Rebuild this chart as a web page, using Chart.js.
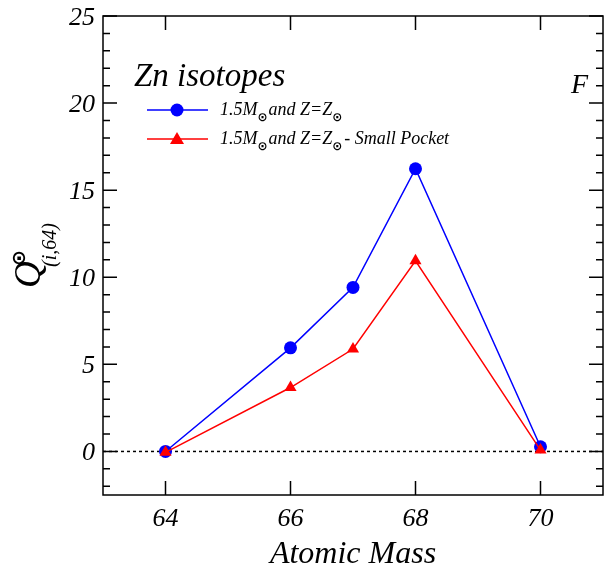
<!DOCTYPE html>
<html>
<head>
<meta charset="utf-8">
<script src="https://cdn.jsdelivr.net/npm/chart.js@4"></script>
<style>
  html, body { margin: 0; padding: 0; background: #fff; }
  #wrap { width: 606px; height: 571px; }
</style>
</head>
<body>
<div id="wrap"><canvas id="chart" width="606" height="571"></canvas></div>
<script>
// Zn isotopes, panel F
const masses = [64, 66, 67, 68, 70];
const baseRun = [0.0, 5.95, 9.42, 16.23, 0.27];
const smallPocket = [-0.05, 3.67, 5.88, 10.95, 0.08];
const xTicks = [64, 66, 68, 70];
const yTicks = [0, 5, 10, 15, 20, 25];

const serif = '"Liberation Serif", "DejaVu Serif", serif';

function points(values) {
  return masses.map((m, i) => ({ x: m, y: values[i] }));
}

// frame with inner ticks, tick labels, zero line and the annotation text
const decor = {
  id: 'decor',
  beforeDatasetsDraw(chart) {
    const { ctx, chartArea: a, scales } = chart;
    const y0 = scales.y.getPixelForValue(0);
    ctx.save();
    ctx.strokeStyle = '#000';
    ctx.lineWidth = 1.5;
    ctx.setLineDash([3, 3]);
    ctx.beginPath();
    ctx.moveTo(a.left, y0);
    ctx.lineTo(a.right, y0);
    ctx.stroke();
    ctx.restore();
  },
  afterDraw(chart) {
    const { ctx, chartArea: a, scales } = chart;
    ctx.save();
    ctx.strokeStyle = '#000';
    ctx.lineWidth = 1.5;
    ctx.strokeRect(a.left, a.top, a.right - a.left, a.bottom - a.top);

    ctx.beginPath();
    for (let v = -2; v <= 25; v++) {
      const py = scales.y.getPixelForValue(v);
      const len = v % 5 === 0 ? 14 : 7;
      ctx.moveTo(a.left, py); ctx.lineTo(a.left + len, py);
      ctx.moveTo(a.right, py); ctx.lineTo(a.right - len, py);
    }
    xTicks.forEach((v) => {
      const px = scales.x.getPixelForValue(v);
      ctx.moveTo(px, a.bottom); ctx.lineTo(px, a.bottom - 14);
      ctx.moveTo(px, a.top); ctx.lineTo(px, a.top + 14);
    });
    ctx.stroke();

    ctx.fillStyle = '#000';
    ctx.font = 'italic 26px ' + serif;
    ctx.textAlign = 'right';
    ctx.textBaseline = 'middle';
    yTicks.forEach((v) => {
      ctx.fillText(String(v), 95, scales.y.getPixelForValue(v) + 2);
    });
    ctx.textAlign = 'center';
    ctx.textBaseline = 'alphabetic';
    xTicks.forEach((v) => {
      ctx.fillText(String(v), scales.x.getPixelForValue(v), 526);
    });

    // x axis title
    ctx.font = 'italic 32px ' + serif;
    ctx.fillText('Atomic Mass', (a.left + a.right) / 2, 563);

    // panel title and letter
    ctx.textAlign = 'left';
    ctx.font = 'italic 33px ' + serif;
    ctx.fillText('Zn isotopes', 134, 86);
    ctx.font = 'italic 28px ' + serif;
    ctx.fillText('F', 571, 93);

    // y axis title, rotated
    ctx.save();
    ctx.translate(40, 288);
    ctx.rotate(-Math.PI / 2);
    ctx.font = 'italic 37px ' + serif;
    ctx.fillText('Q', 0, 0);
    ctx.font = 'bold 19px "DejaVu Sans", sans-serif';
    ctx.textAlign = 'center';
    ctx.textBaseline = 'middle';
    ctx.fillText('\u2299', 30, -20);
    ctx.textAlign = 'left';
    ctx.textBaseline = 'alphabetic';
    ctx.font = 'italic 20px ' + serif;
    ctx.fillText('(i,64)', 21, 16);
    ctx.restore();

    // legend
    drawLegendRow(ctx, 110, '#0000ff', 'circle', '');
    drawLegendRow(ctx, 139, '#ff0000', 'triangle', '- Small Pocket');
    ctx.restore();
  }
};

function drawSun(ctx, x, y) {
  ctx.save();
  ctx.font = 'bold 12px "DejaVu Sans", sans-serif';
  ctx.textAlign = 'center';
  ctx.textBaseline = 'middle';
  ctx.fillText('\u2299', x, y);
  ctx.restore();
}

function drawLegendRow(ctx, y, color, marker, tail) {
  ctx.save();
  ctx.strokeStyle = color;
  ctx.fillStyle = color;
  ctx.lineWidth = 1.5;
  ctx.beginPath();
  ctx.moveTo(147, y);
  ctx.lineTo(208, y);
  ctx.stroke();
  ctx.beginPath();
  if (marker === 'circle') {
    ctx.arc(177, y, 6.5, 0, Math.PI * 2);
  } else {
    ctx.moveTo(177, y - 7);
    ctx.lineTo(184, y + 5);
    ctx.lineTo(170, y + 5);
    ctx.closePath();
  }
  ctx.fill();

  ctx.fillStyle = '#000';
  ctx.textAlign = 'left';
  ctx.textBaseline = 'alphabetic';
  const base = y + 4.5;
  ctx.font = 'italic 18px ' + serif;
  let x = 220;
  ctx.fillText('1.5M', x, base);
  x += ctx.measureText('1.5M').width;
  drawSun(ctx, x + 5, base + 3);
  x += 11;
  ctx.fillText('and Z=Z', x, base);
  x += ctx.measureText('and Z=Z').width;
  drawSun(ctx, x + 5, base + 3);
  x += 12;
  if (tail) {
    ctx.fillText(tail, x, base);
  }
  ctx.restore();
}

new Chart(document.getElementById('chart'), {
  type: 'line',
  data: {
    datasets: [
      {
        label: '1.5M and Z=Z - Small Pocket',
        data: points(smallPocket),
        borderColor: '#ff0000',
        backgroundColor: '#ff0000',
        borderWidth: 1.5,
        pointStyle: 'triangle',
        pointRadius: 7,
        pointBorderWidth: 0,
        order: 0
      },
      {
        label: '1.5M and Z=Z',
        data: points(baseRun),
        borderColor: '#0000ff',
        backgroundColor: '#0000ff',
        borderWidth: 1.5,
        pointStyle: 'circle',
        pointRadius: 6.5,
        pointBorderWidth: 0,
        order: 1
      }
    ]
  },
  options: {
    responsive: false,
    animation: false,
    layout: { autoPadding: false, padding: { top: 16, right: 3, left: 0, bottom: 0 } },
    plugins: {
      legend: { display: false },
      tooltip: { enabled: false }
    },
    scales: {
      x: {
        type: 'linear',
        min: 63,
        max: 71,
        afterBuildTicks: (s) => { s.ticks = xTicks.map((v) => ({ value: v })); },
        afterFit: (s) => { s.height = 76; },
        grid: { display: false, drawTicks: false },
        border: { display: false },
        ticks: { display: false }
      },
      y: {
        min: -2.5,
        max: 25,
        afterBuildTicks: (s) => { s.ticks = yTicks.map((v) => ({ value: v })); },
        afterFit: (s) => { s.width = 103; },
        grid: { display: false, drawTicks: false },
        border: { display: false },
        ticks: { display: false }
      }
    }
  },
  plugins: [decor]
});
</script>
</body>
</html>
